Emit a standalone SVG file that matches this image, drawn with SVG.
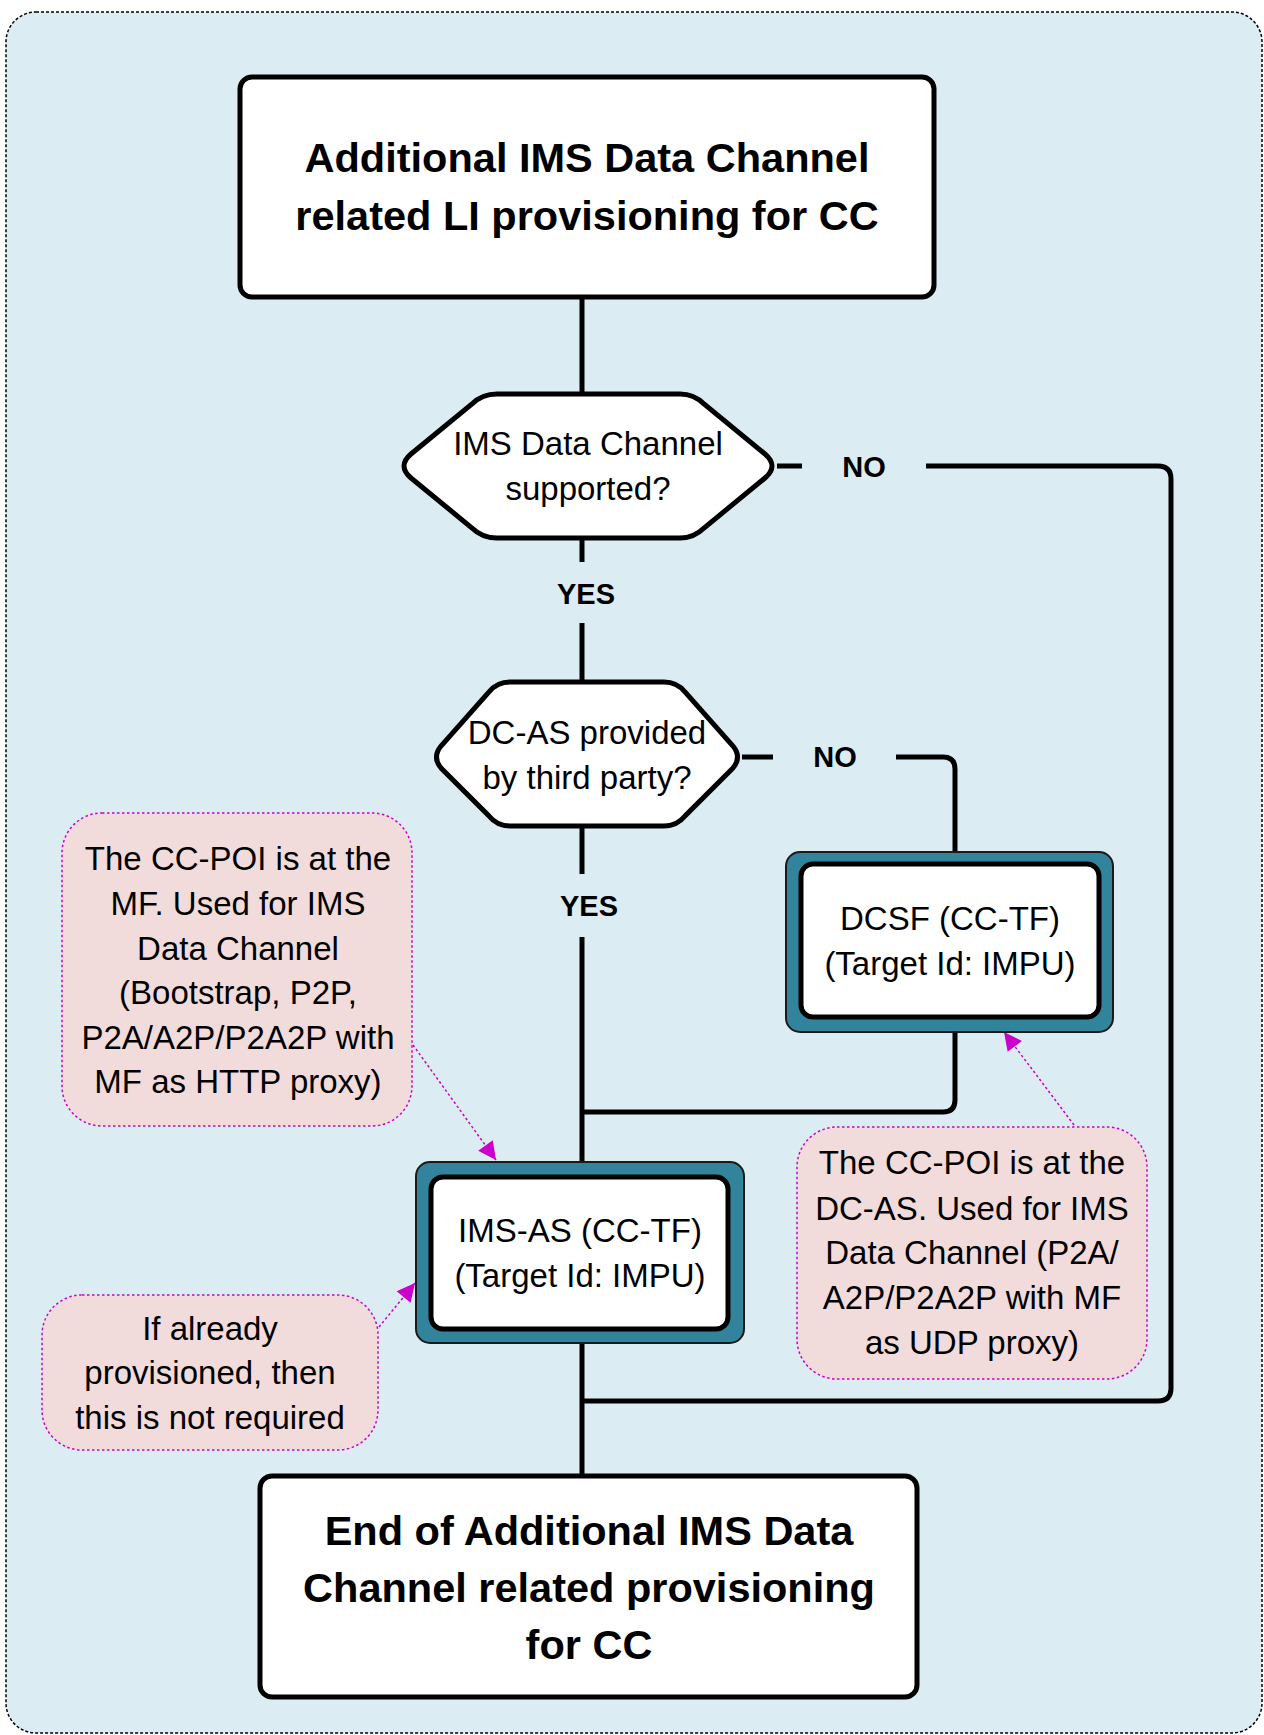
<svg xmlns="http://www.w3.org/2000/svg" width="1264" height="1735" viewBox="0 0 1264 1735">
<style>
.conn{fill:none;stroke:#000;stroke-width:5;stroke-linejoin:round}
.box{fill:#fff;stroke:#000;stroke-width:5}
.outer{fill:#31849B;stroke:#1a1a1a;stroke-width:2}
.note{fill:#F2DCDB;stroke:#CC00CC;stroke-width:1.5;stroke-dasharray:2.5 2.5}
.ptr{fill:none;stroke:#CC00CC;stroke-width:1.5;stroke-dasharray:2.5 2.5}
.t{font-family:"Liberation Sans",Arial,sans-serif;font-size:33px;text-anchor:middle;fill:#000}
.tb{font-family:"Liberation Sans",Arial,sans-serif;font-size:41.5px;font-weight:bold;text-anchor:middle;fill:#000}
.lb{font-family:"Liberation Sans",Arial,sans-serif;font-size:29px;font-weight:bold;text-anchor:middle;fill:#000}
</style>
<defs>
<marker id="arr" viewBox="0 0 10 10" refX="10" refY="5" markerWidth="24" markerHeight="18" markerUnits="userSpaceOnUse" orient="auto">
<path d="M0,0 L10,5 L0,10 Z" fill="#CC00CC"/>
</marker>
</defs>
<rect x="6" y="12" width="1256" height="1721" rx="30" fill="#DBEDF3" stroke="#000" stroke-width="1.5" stroke-dasharray="3 2"/>

<g id="connectors">
<path class="conn" d="M582,299 V394"/>
<path class="conn" d="M582,540 V562"/>
<path class="conn" d="M582,623 V682"/>
<path class="conn" d="M777,466 H802"/>
<path class="conn" d="M926,466 H1158 Q1171,466 1171,479 V1388 Q1171,1401 1158,1401 H582"/>
<path class="conn" d="M742,757 H773"/>
<path class="conn" d="M896,757 H943 Q955,757 955,769 V852"/>
<path class="conn" d="M582,826 V874"/>
<path class="conn" d="M582,937 V1162"/>
<path class="conn" d="M955,1032 V1100 Q955,1112 943,1112 H582"/>
<path class="conn" d="M582,1343 V1474"/>
<text class="lb" x="864" y="477">NO</text>
<text class="lb" x="586" y="604">YES</text>
<text class="lb" x="835" y="767">NO</text>
<text class="lb" x="589" y="916">YES</text>
<path class="ptr" d="M413,1045 L496,1160" marker-end="url(#arr)"/>
<path class="ptr" d="M379,1327 L415,1283" marker-end="url(#arr)"/>
<path class="ptr" d="M1074,1125 L1004,1032" marker-end="url(#arr)"/>
</g>

<g id="start">
<rect class="box" x="240" y="77" width="694" height="220" rx="12"/>
<text class="tb" x="587" y="172">Additional IMS Data Channel</text>
<text class="tb" x="587" y="230">related LI provisioning for CC</text>
</g>

<g id="decision1">
<path class="box" d="M497,394 L680,394 Q694,394 704,404 L765,454 Q779,466 765,478 L704,528 Q694,538 680,538 L497,538 Q482,538 472,528 L411,478 Q397,466 411,454 L472,404 Q482,394 497,394 Z"/>
<text class="t" x="588" y="455">IMS Data Channel</text>
<text class="t" x="588" y="500">supported?</text>
</g>

<g id="decision2">
<path class="box" d="M510,682 L664,682 Q677,682 685,692 L733,746 Q742,757 733,768 L685,816 Q677,826 664,826 L510,826 Q497,826 489,816 L441,768 Q432,757 441,746 L489,692 Q497,682 510,682 Z"/>
<text class="t" x="587" y="744">DC-AS provided</text>
<text class="t" x="587" y="789">by third party?</text>
</g>

<g id="dcsf">
<rect class="outer" x="786" y="852" width="327" height="180" rx="14"/>
<rect class="box" x="801" y="864" width="298" height="153" rx="12"/>
<text class="t" x="950" y="930">DCSF (CC-TF)</text>
<text class="t" x="950" y="975">(Target Id: IMPU)</text>
</g>

<g id="imsas">
<rect class="outer" x="416" y="1162" width="328" height="181" rx="14"/>
<rect class="box" x="431" y="1177" width="297" height="152" rx="12"/>
<text class="t" x="580" y="1242">IMS-AS (CC-TF)</text>
<text class="t" x="580" y="1287">(Target Id: IMPU)</text>
</g>

<g id="end">
<rect class="box" x="260" y="1476" width="657" height="221" rx="12"/>
<text class="tb" x="589" y="1545">End of Additional IMS Data</text>
<text class="tb" x="589" y="1602">Channel related provisioning</text>
<text class="tb" x="589" y="1659">for CC</text>
</g>

<g id="note1">
<rect class="note" x="62" y="813" width="350" height="313" rx="40"/>
<text class="t" x="238" y="870">The CC-POI is at the</text>
<text class="t" x="238" y="915">MF. Used for IMS</text>
<text class="t" x="238" y="960">Data Channel</text>
<text class="t" x="238" y="1004">(Bootstrap, P2P,</text>
<text class="t" x="238" y="1049">P2A/A2P/P2A2P with</text>
<text class="t" x="238" y="1093">MF as HTTP proxy)</text>
</g>

<g id="note2">
<rect class="note" x="42" y="1295" width="336" height="155" rx="40"/>
<text class="t" x="210" y="1340">If already</text>
<text class="t" x="210" y="1384">provisioned, then</text>
<text class="t" x="210" y="1429">this is not required</text>
</g>

<g id="note3">
<rect class="note" x="797" y="1127" width="350" height="252" rx="40"/>
<text class="t" x="972" y="1174">The CC-POI is at the</text>
<text class="t" x="972" y="1220">DC-AS. Used for IMS</text>
<text class="t" x="972" y="1264">Data Channel (P2A/</text>
<text class="t" x="972" y="1309">A2P/P2A2P with MF</text>
<text class="t" x="972" y="1354">as UDP proxy)</text>
</g>
</svg>
